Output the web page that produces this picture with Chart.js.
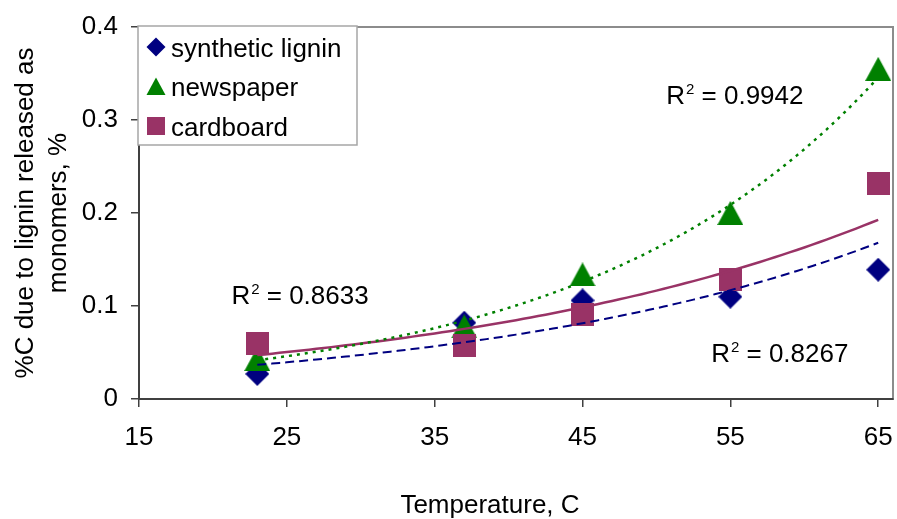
<!DOCTYPE html>
<html>
<head>
<meta charset="utf-8">
<script src="https://cdn.jsdelivr.net/npm/chart.js@4.4.1/dist/chart.umd.min.js"></script>
<style>
  html, body { margin: 0; padding: 0; background: #ffffff; overflow: hidden; }
  #wrap { width: 897px; height: 519px; overflow: hidden; }
  #chart { display: block; width: 897px; height: 519px; }
</style>
</head>
<body>
<div id="wrap"><canvas id="chart" width="897" height="519"></canvas></div>
<script>
// Reaction temperature (C) and carbon released as lignin monomers (%)
const temperatures = [23, 37, 45, 55, 65];
const syntheticLignin = [0.027, 0.082, 0.106, 0.110, 0.139];
const newspaper = [0.043, 0.078, 0.134, 0.200, 0.355];
const cardboard = [0.060, 0.057, 0.091, 0.129, 0.232];

const xTicks = [15, 25, 35, 45, 55, 65];
const yTicks = [0, 0.1, 0.2, 0.3, 0.4];

const seriesNames = ['synthetic lignin', 'newspaper', 'cardboard'];
const rSquaredText = ['0.8267', '0.9942', '0.8633'];
const xTitle = 'Temperature, C';
const yTitle = ['%C due to lignin released as', 'monomers, %'];

const FONT = '"Liberation Sans", Arial, Helvetica, sans-serif';
const NAVY = '#000080';
const GREEN = '#008000';
const PLUM = '#993366';

// Excel-style exponential trendline: least squares of ln(y) against x
function expFit(xs, ys) {
  const n = xs.length;
  const ly = ys.map(v => Math.log(v));
  const mx = xs.reduce((a, b) => a + b, 0) / n;
  const my = ly.reduce((a, b) => a + b, 0) / n;
  let sxy = 0, sxx = 0;
  for (let i = 0; i < n; i++) {
    sxy += (xs[i] - mx) * (ly[i] - my);
    sxx += (xs[i] - mx) * (xs[i] - mx);
  }
  const b = sxy / sxx;
  const a = Math.exp(my - b * mx);
  return x => a * Math.exp(b * x);
}

function trendPoints(ys) {
  const f = expFit(temperatures, ys);
  const x0 = temperatures[0], x1 = temperatures[temperatures.length - 1];
  const pts = [];
  const steps = 84;
  for (let i = 0; i <= steps; i++) {
    const x = x0 + (x1 - x0) * i / steps;
    pts.push({ x, y: f(x) });
  }
  return pts;
}

function toPoints(ys) {
  return temperatures.map((t, i) => ({ x: t, y: ys[i] }));
}

// Marker bitmaps (filled diamond, triangle, square)
function makeMarker(shape, color, w, h) {
  const c = document.createElement('canvas');
  c.width = w; c.height = h;
  const g = c.getContext('2d');
  g.fillStyle = color;
  g.beginPath();
  if (shape === 'diamond') {
    g.moveTo(w / 2, 0); g.lineTo(w, h / 2); g.lineTo(w / 2, h); g.lineTo(0, h / 2);
  } else if (shape === 'triangle') {
    g.moveTo(w / 2, 0); g.lineTo(w, h); g.lineTo(0, h);
  } else {
    g.rect(0, 0, w, h);
  }
  g.closePath();
  g.fill();
  return c;
}

const markerDiamond = makeMarker('diamond', NAVY, 24, 24);
const markerTriangle = makeMarker('triangle', GREEN, 26, 24);
const markerSquare = makeMarker('square', PLUM, 23, 23);

// Plot area frame (top / right edges in grey)
const framePlugin = {
  id: 'frame',
  beforeDraw(chart) {
    const { ctx, chartArea: a } = chart;
    ctx.save();
    ctx.strokeStyle = '#8c8c8c';
    ctx.lineWidth = 2;
    ctx.strokeRect(a.left, a.top, a.right - a.left, a.bottom - a.top);
    ctx.restore();
  }
};

// Horizontal axis caption below the tick labels
const xTitlePlugin = {
  id: 'xTitle',
  afterDraw(chart) {
    const { ctx } = chart;
    ctx.save();
    ctx.fillStyle = '#000';
    ctx.font = '26px ' + FONT;
    ctx.textAlign = 'center';
    ctx.textBaseline = 'alphabetic';
    ctx.fillText(xTitle, 490, 513);
    ctx.restore();
  }
};

// R² captions beside the trendlines, anchored in data units
const rLabelAnchors = [
  { x: 53.7, y: 0.0400 },
  { x: 50.66, y: 0.3168 },
  { x: 21.25, y: 0.1025 }
];

const rLabelPlugin = {
  id: 'rLabels',
  afterDatasetsDraw(chart) {
    const { ctx } = chart;
    const xs = chart.scales.x, ys = chart.scales.y;
    ctx.save();
    ctx.fillStyle = '#000';
    ctx.textBaseline = 'alphabetic';
    ctx.textAlign = 'left';
    rLabelAnchors.forEach((p, i) => {
      let x = xs.getPixelForValue(p.x);
      const y = ys.getPixelForValue(p.y);
      ctx.font = '26px ' + FONT;
      ctx.fillText('R', x, y);
      x += ctx.measureText('R').width + 1;
      ctx.font = '15px ' + FONT;
      ctx.fillText('2', x, y - 10);
      x += ctx.measureText('2').width;
      ctx.font = '26px ' + FONT;
      ctx.fillText(' = ' + rSquaredText[i], x, y);
    });
    ctx.restore();
  }
};

// Boxed legend in the upper-left corner of the plot area
const boxLegendPlugin = {
  id: 'boxLegend',
  afterDraw(chart) {
    const { ctx, chartArea: a } = chart;
    const left = a.left - 1, top = a.top - 1, w = 219, h = 119;
    ctx.save();
    ctx.fillStyle = '#ffffff';
    ctx.fillRect(left, top, w, h);
    ctx.strokeStyle = '#a6a6a6';
    ctx.lineWidth = 1.5;
    ctx.strokeRect(left, top, w, h);
    const colors = [NAVY, GREEN, PLUM];
    const shapes = ['diamond', 'triangle', 'square'];
    ctx.font = '26px ' + FONT;
    ctx.textBaseline = 'alphabetic';
    ctx.textAlign = 'left';
    seriesNames.forEach((name, i) => {
      const cy = top + 21 + i * 39.5;
      const cx = left + 18;
      ctx.fillStyle = colors[i];
      ctx.beginPath();
      if (shapes[i] === 'diamond') {
        ctx.moveTo(cx, cy - 9.5); ctx.lineTo(cx + 9.5, cy); ctx.lineTo(cx, cy + 9.5); ctx.lineTo(cx - 9.5, cy);
      } else if (shapes[i] === 'triangle') {
        ctx.moveTo(cx, cy - 9); ctx.lineTo(cx + 9.5, cy + 8.5); ctx.lineTo(cx - 9.5, cy + 8.5);
      } else {
        ctx.rect(cx - 9, cy - 9, 18, 18);
      }
      ctx.closePath();
      ctx.fill();
      ctx.fillStyle = '#000';
      ctx.fillText(name, left + 33, cy + 9.5);
    });
    ctx.restore();
  }
};

const trendStyles = [
  { color: NAVY, dash: [9, 5], width: 2 },
  { color: GREEN, dash: [3, 5], width: 2.5 },
  { color: PLUM, dash: [], width: 2.5 }
];
const seriesValues = [syntheticLignin, newspaper, cardboard];
const markers = [markerDiamond, markerTriangle, markerSquare];
const markerColors = [NAVY, GREEN, PLUM];

const datasets = [];
seriesValues.forEach((vals, i) => {
  datasets.push({
    label: seriesNames[i],
    data: toPoints(vals),
    showLine: false,
    pointStyle: markers[i],
    pointRadius: 1,
    pointBorderWidth: 0,
    backgroundColor: markerColors[i],
    borderColor: markerColors[i],
    clip: false,
    order: 3 - i
  });
});
seriesValues.forEach((vals, i) => {
  datasets.push({
    label: seriesNames[i] + ' trend',
    data: trendPoints(vals),
    showLine: true,
    pointRadius: 0,
    borderColor: trendStyles[i].color,
    borderWidth: trendStyles[i].width,
    borderDash: trendStyles[i].dash,
    fill: false,
    tension: 0,
    order: 0
  });
});

new Chart(document.getElementById('chart'), {
  type: 'scatter',
  data: { datasets },
  options: {
    responsive: false,
    animation: false,
    events: [],
    layout: { autoPadding: false, padding: { top: 27, right: 4, left: 0, bottom: 0 } },
    plugins: { legend: { display: false }, tooltip: { enabled: false } },
    scales: {
      x: {
        type: 'linear',
        min: 15,
        max: 66,
        afterBuildTicks: s => { s.ticks = xTicks.map(v => ({ value: v })); },
        afterFit: s => { s.height = 120; s.paddingLeft = 0; s.paddingRight = 0; },
        grid: { display: true, drawOnChartArea: false, drawTicks: true, tickLength: 8, color: '#404040', lineWidth: 1.5 },
        border: { display: true, color: '#404040', width: 2 },
        ticks: { color: '#000', font: { family: FONT, size: 26 }, padding: 15, maxRotation: 0, autoSkip: false },
        title: { display: false }
      },
      y: {
        type: 'linear',
        min: 0,
        max: 0.4,
        afterBuildTicks: s => { s.ticks = yTicks.map(v => ({ value: v })); },
        afterFit: s => { s.width = 139; s.paddingTop = 0; s.paddingBottom = 0; },
        grid: { display: true, drawOnChartArea: false, drawTicks: true, tickLength: 8, color: '#404040', lineWidth: 1.5 },
        border: { display: true, color: '#404040', width: 2 },
        ticks: { color: '#000', font: { family: FONT, size: 26 }, padding: 13, callback: v => (v === 0 ? '0' : v.toFixed(1)) },
        title: { display: true, text: yTitle, color: '#000', font: { family: FONT, size: 26, lineHeight: 1.28 }, padding: { top: 9, bottom: 0 } }
      }
    }
  },
  plugins: [framePlugin, rLabelPlugin, boxLegendPlugin, xTitlePlugin]
});
</script>
</body>
</html>
